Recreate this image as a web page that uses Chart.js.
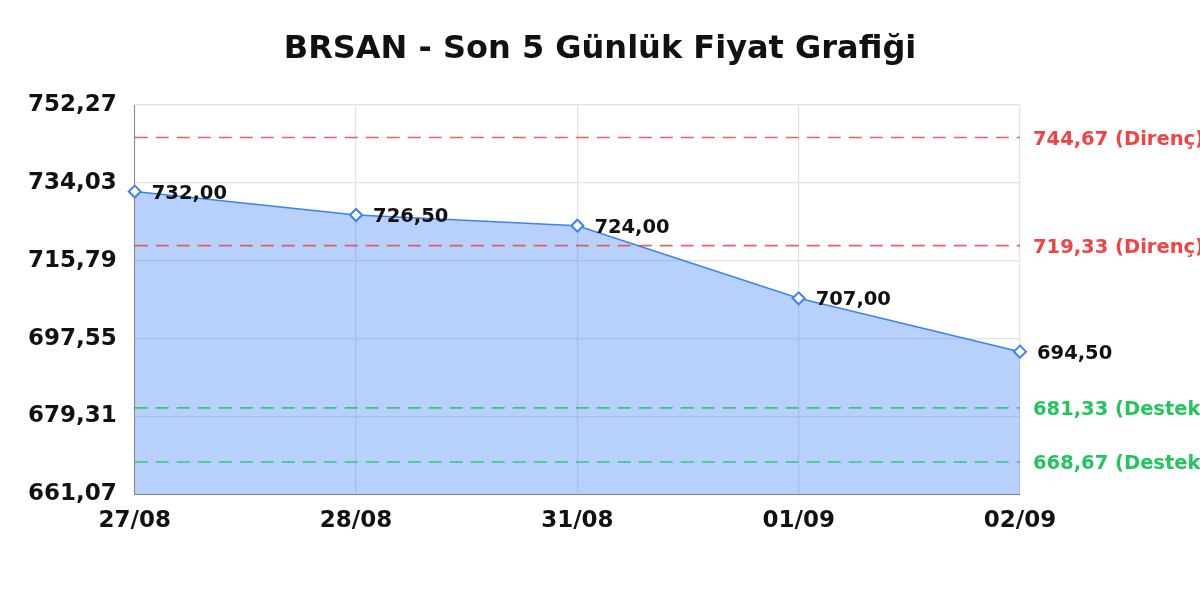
<!DOCTYPE html>
<html>
<head>
<meta charset="utf-8">
<script src="https://cdn.jsdelivr.net/npm/chart.js@4/dist/chart.umd.min.js"></script>
<style>
  html, body { margin: 0; padding: 0; background: #fff; }
  #wrap { width: 1200px; height: 600px; }
</style>
</head>
<body>
<div id="wrap"><canvas id="priceChart"></canvas></div>
<script>
const days = ['27/08', '28/08', '31/08', '01/09', '02/09'];
const prices = [732.00, 726.50, 724.00, 707.00, 694.50];
const yTicks = [661.07, 679.31, 697.55, 715.79, 734.03, 752.27];
const resistance = [744.67, 719.33];
const support = [681.33, 668.67];
const chartTitle = 'BRSAN - Son 5 Günlük Fiyat Grafiği';

const fmt = v => v.toFixed(2).replace('.', ',');

// title centred on the whole canvas
const pageTitle = {
    id: 'pageTitle',
    afterDraw(chart) {
        const { ctx } = chart;
        ctx.save();
        ctx.fillStyle = '#111';
        ctx.font = 'bold 32px "DejaVu Sans"';
        ctx.textAlign = 'center';
        ctx.textBaseline = 'middle';
        ctx.fillText(chartTitle, chart.width / 2, 50);
        ctx.restore();
    }
};

// dashed support / resistance lines with labels on the right
const levelLines = {
    id: 'levelLines',
    afterDatasetsDraw(chart) {
        const { ctx, chartArea, scales } = chart;
        const draw = (val, color, name) => {
            const y = scales.y.getPixelForValue(val);
            ctx.save();
            ctx.strokeStyle = color;
            ctx.globalAlpha = 0.85;
            ctx.lineWidth = 1.6;
            ctx.setLineDash([13, 8]);
            ctx.beginPath();
            ctx.moveTo(chartArea.left, y);
            ctx.lineTo(chartArea.right, y);
            ctx.stroke();
            ctx.setLineDash([]);
            ctx.globalAlpha = 1;
            ctx.fillStyle = color;
            ctx.font = 'bold 19.5px "DejaVu Sans"';
            ctx.textBaseline = 'middle';
            ctx.fillText(fmt(val) + ' (' + name + ')', chartArea.right + 13, y + 2);
            ctx.restore();
        };
        resistance.forEach(v => draw(v, '#ef4444', 'Direnç'));
        support.forEach(v => draw(v, '#22c55e', 'Destek'));
    }
};

// value labels next to each point
const pointLabels = {
    id: 'pointLabels',
    afterDatasetsDraw(chart) {
        const { ctx } = chart;
        const meta = chart.getDatasetMeta(0);
        ctx.save();
        ctx.fillStyle = '#111';
        ctx.font = 'bold 19.5px "DejaVu Sans"';
        ctx.textBaseline = 'middle';
        meta.data.forEach((pt, i) => {
            ctx.fillText(fmt(prices[i]), pt.x + 17, pt.y + 2);
        });
        ctx.restore();
    }
};

new Chart(document.getElementById('priceChart'), {
    type: 'line',
    data: {
        labels: days,
        datasets: [{
            label: 'BRSAN',
            data: prices,
            borderColor: '#3b82f6',
            backgroundColor: 'rgba(59, 130, 246, 0.37)',
            borderWidth: 1.5,
            fill: 'start',
            tension: 0,
            pointStyle: 'rectRot',
            pointRadius: 6,
            pointBorderWidth: 2,
            pointBorderColor: '#3b82f6',
            pointBackgroundColor: '#fff'
        }]
    },
    options: {
        responsive: true,
        maintainAspectRatio: false,
        animation: false,
        layout: { padding: { left: 10, right: 180, top: 105, bottom: 52 } },
        plugins: {
            legend: { display: false },
            tooltip: { enabled: false },
            title: { display: false }
        },
        scales: {
            x: {
                offset: false,
                grid: { color: '#e2e2e2', lineWidth: 1.2, drawTicks: false },
                border: { color: '#888' },
                ticks: {
                    color: '#111',
                    padding: 13,
                    font: { family: 'DejaVu Sans', size: 23, weight: 'bold' }
                }
            },
            y: {
                min: yTicks[0],
                max: yTicks[yTicks.length - 1],
                afterBuildTicks(axis) {
                    axis.ticks = yTicks.map(v => ({ value: v }));
                },
                grid: { color: '#e2e2e2', lineWidth: 1.2, drawTicks: false },
                border: { color: '#888' },
                ticks: {
                    color: '#111',
                    padding: 18,
                    font: { family: 'DejaVu Sans', size: 23, weight: 'bold' },
                    callback: v => fmt(v)
                }
            }
        }
    },
    plugins: [levelLines, pointLabels, pageTitle]
});
</script>
</body>
</html>
